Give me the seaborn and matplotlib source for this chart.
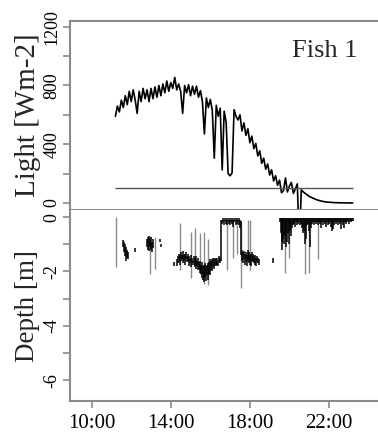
import numpy as np
import matplotlib
matplotlib.use("Agg")
import matplotlib.pyplot as plt
import seaborn as sns

# ---------------- data ----------------
# Light (W m-2) sampled every 0.1 h from 11.2 h to 23.2 h
light_time = np.round(np.arange(11.2, 23.2001, 0.1), 2)
light_value = [
    590, 660, 620, 700, 650, 730, 670, 760, 690, 770,   # 11.2-12.1
    700, 610, 760, 690, 780, 710, 770, 690, 780, 710,   # 12.2-13.1
    790, 720, 800, 730, 810, 750, 830, 760, 820, 780,   # 13.2-14.1
    855, 770, 810, 760, 610, 800, 750, 805, 730, 795,   # 14.2-15.1
    740, 795, 720, 765, 690, 470, 715, 650, 705, 630,   # 15.2-16.1
    305, 665, 590, 645, 225, 625, 550, 200, 185, 205,   # 16.2-17.1
    635, 590, 565, 600, 490, 545, 460, 505, 410, 455,   # 17.2-18.1
    370, 405, 320, 355, 270, 305, 230, 265, 190, 225,   # 18.2-19.1
    150, 185, 120, 155, 70, 85, 170, 75, 115, 140,      # 19.2-20.1
    65, 95, 130, -300, 90, 75, 65, 55, 45, 38,          # 20.2-21.1
    32, 26, 21, 17, 13, 10, 8, 6, 5, 4,                 # 21.2-22.1
    3, 2, 2, 1, 1, 1, 1, 0, 0, 0,                       # 22.2-23.1
    0,                                                  # 23.2
]
light_threshold = 100

# Depth (m): dense black bands (time, shallow, deep)
core_time = [
    11.60, 11.65, 11.70, 11.75, 11.80, 11.85, 12.20,
    12.80, 12.85, 12.90, 12.95, 13.00, 13.05, 13.10, 13.45, 13.50,
    14.15,
    14.30, 14.35, 14.40, 14.45, 14.50, 14.55, 14.60, 14.65, 14.70, 14.75,
    14.80, 14.85, 14.90, 14.95, 15.00, 15.05, 15.10, 15.15, 15.20, 15.25,
    15.30, 15.35, 15.40, 15.45, 15.50, 15.55, 15.60, 15.65, 15.70, 15.75,
    15.80, 15.85, 15.90, 15.95, 16.00, 16.05, 16.10, 16.15, 16.20, 16.25,
    16.30, 16.35, 16.40, 16.45, 16.50, 16.55,
    16.60, 16.65, 16.70, 16.75, 16.80, 16.85, 16.90, 16.95, 17.00, 17.05,
    17.10, 17.15, 17.20, 17.25, 17.30, 17.35, 17.40, 17.45, 17.50, 17.55,
    17.60, 17.65, 17.70, 17.75, 17.80, 17.85, 17.90, 17.95, 18.00, 18.05,
    18.10, 18.15, 18.20, 18.25, 18.30, 18.35, 18.40, 18.45,
    19.15,
    19.50, 19.55, 19.60, 19.65, 19.70, 19.75, 19.80, 19.85, 19.90, 19.95,
    20.00, 20.05, 20.10, 20.15, 20.20, 20.25, 20.30, 20.35, 20.40, 20.45,
    20.50, 20.55, 20.60, 20.65, 20.70, 20.75, 20.80, 20.85, 20.90, 20.95,
    21.00, 21.05, 21.10, 21.15, 21.20, 21.25, 21.30, 21.35, 21.40, 21.45,
    21.50, 21.55, 21.60, 21.65, 21.70, 21.75, 21.80, 21.85, 21.90, 21.95,
    22.00, 22.05, 22.10, 22.15, 22.20, 22.25, 22.30, 22.35, 22.40, 22.45,
    22.50, 22.55, 22.60, 22.65, 22.70, 22.75, 22.80, 22.85, 22.90, 22.95,
    23.00, 23.05, 23.10, 23.15, 23.20,
]
core_top = [
    -0.85, -0.90, -1.00, -1.10, -1.20, -1.30, -1.15,
    -0.80, -0.75, -0.70, -0.80, -0.75, -0.90, -0.80, -0.80, -1.00,
    -1.65,
    -1.55, -1.45, -1.35, -1.40, -1.30, -1.40, -1.25, -1.40, -1.35, -1.30,
    -1.45, -1.35, -1.45, -1.55, -1.40, -1.50, -1.60, -1.45, -1.50, -1.60,
    -1.45, -1.60, -1.50, -1.65, -1.60, -1.75, -1.65, -1.80, -1.75, -1.70,
    -1.80, -1.75, -1.70, -1.65, -1.55, -1.60, -1.55, -1.50, -1.55, -1.50,
    -1.55, -1.50, -1.60, -1.45, -1.50, -0.10,
    -0.10, -0.05, -0.10, -0.05, -0.10, -0.05, -0.10, -0.05, -0.10, -0.05,
    -0.10, -0.05, -0.10, -0.05, -0.10, -0.05, -0.10, -0.05, -0.10, -0.15,
    -1.20, -1.30, -1.25, -1.35, -1.30, -1.40, -1.20, -1.30, -1.35, -1.40,
    -1.30, -1.35, -1.45, -1.40, -1.50, -1.45, -1.50, -1.55,
    -1.50,
    -0.05, -0.05, -0.05, -0.05, -0.05, -0.05, -0.05, -0.05, -0.05, -0.05,
    -0.05, -0.05, -0.05, -0.05, -0.05, -0.05, -0.05, -0.05, -0.05, -0.05,
    -0.05, -0.05, -0.05, -0.05, -0.05, -0.05, -0.05, -0.05, -0.05, -0.05,
    -0.05, -0.05, -0.05, -0.05, -0.05, -0.05, -0.05, -0.05, -0.05, -0.05,
    -0.05, -0.05, -0.05, -0.05, -0.05, -0.05, -0.05, -0.05, -0.05, -0.05,
    -0.05, -0.05, -0.05, -0.05, -0.05, -0.05, -0.05, -0.05, -0.05, -0.05,
    -0.05, -0.05, -0.05, -0.05, -0.05, -0.05, -0.05, -0.05, -0.05, -0.05,
    -0.05, -0.05, -0.05, -0.05, -0.05,
]
core_bottom = [
    -1.10, -1.30, -1.45, -1.60, -1.50, -1.55, -1.30,
    -1.10, -1.20, -1.25, -1.10, -1.20, -1.30, -1.15, -0.90, -1.10,
    -1.80,
    -1.80, -1.70, -1.65, -1.75, -1.60, -1.55, -1.70, -1.60, -1.75, -1.55,
    -1.65, -1.60, -1.80, -1.70, -1.85, -1.70, -1.75, -1.65, -1.85, -1.75,
    -1.90, -1.80, -1.95, -1.90, -2.05, -2.10, -2.25, -2.30, -2.40, -2.20,
    -2.35, -2.15, -2.30, -2.10, -2.15, -1.95, -2.00, -1.85, -1.90, -1.75,
    -1.80, -1.75, -1.80, -1.65, -1.70, -1.60,
    -0.25, -0.20, -0.30, -0.15, -0.25, -0.30, -0.15, -0.25, -0.30, -0.20,
    -0.25, -0.35, -0.20, -0.15, -0.30, -0.25, -0.20, -0.30, -0.40, -1.40,
    -1.60, -1.70, -1.55, -1.75, -1.65, -1.80, -1.60, -1.70, -1.75, -1.80,
    -1.60, -1.65, -1.70, -1.75, -1.80, -1.65, -1.70, -1.75,
    -1.70,
    -0.20, -0.60, -0.90, -1.20, -0.80, -1.00, -0.70, -1.10, -0.90, -0.60,
    -1.00, -0.50, -0.70, -0.40, -0.30, -0.25, -0.35, -0.20, -0.30, -0.25,
    -0.20, -0.30, -0.25, -0.40, -0.60, -0.50, -1.00, -0.80, -0.30, -0.25,
    -0.50, -1.10, -0.40, -0.25, -0.20, -0.30, -0.20, -0.25, -0.20, -0.30,
    -0.20, -0.25, -0.40, -0.20, -0.30, -0.20, -0.25, -0.35, -0.20, -0.30,
    -0.25, -0.20, -0.35, -0.50, -0.45, -0.30, -0.20, -0.25, -0.20, -0.30,
    -0.20, -0.25, -0.45, -0.20, -0.30, -0.40, -0.20, -0.25, -0.20, -0.15,
    -0.25, -0.15, -0.20, -0.15, -0.15,
]

# Depth (m): isolated excursions (thin grey lines)
spike_time = [11.23, 12.95, 13.20, 14.46, 15.00, 15.22, 15.47, 15.68, 15.90,
              16.83, 17.15, 17.35, 17.55, 17.92, 18.00, 19.80, 19.99, 20.78,
              21.00, 21.45]
spike_top = [0.00, -0.70, -0.75, -0.23, -0.55, -0.42, -0.60, -0.55, -0.80,
             -0.10, -0.10, -0.10, -0.20, -0.10, -0.10, -0.05, -0.05, -0.05,
             -0.05, -0.05]
spike_bottom = [-1.83, -2.10, -1.92, -1.95, -2.25, -1.80, -2.10, -2.45, -2.50,
                -1.95, -1.50, -1.35, -2.60, -1.50, -1.95, -2.05, -1.50, -2.10,
                -2.05, -1.55]

x_ticks = [10, 14, 18, 22]
x_tick_labels = ["10:00", "14:00", "18:00", "22:00"]
light_ticks = [0, 200, 400, 600, 800, 1000, 1200]
light_tick_labels = ["0", "", "400", "", "800", "", "1200"]
depth_ticks = [0, -1, -2, -3, -4, -5, -6]
depth_tick_labels = ["0", "", "-2", "", "-4", "", "-6"]

# ---------------- styling ----------------
sns.set_theme(style="white")
plt.rcParams["font.family"] = ["Liberation Serif", "DejaVu Serif"]

spine_col = "#8a8a8a"

fig = plt.figure(figsize=(3.78, 4.36), dpi=100)
W, H = 378.0, 436.0
left = 70 / W
ax1 = fig.add_axes([left, 1 - 210 / H, 1 - left, (210 - 21) / H])
ax2 = fig.add_axes([left, 1 - 401 / H, 1 - left, (401 - 210) / H])

xlim = (8.903, 24.48)

# ---- top: light ----
sns.lineplot(x=light_time, y=light_value, ax=ax1, color="black",
             linewidth=1.2, estimator=None, sort=False)
ax1.hlines(light_threshold, light_time.min(), light_time.max(),
           color="#555555", linewidth=1.0)
ax1.set_xlim(*xlim)
ax1.set_ylim(-48, 1239)
ax1.set_xticks([])
ax1.set_yticks(light_ticks)
ax1.set_yticklabels(light_tick_labels, rotation=90, va="center", fontsize=13)
ax1.text(0.935, 0.81, "Fish 1", transform=ax1.transAxes, ha="right",
         va="baseline", fontsize=19)
ax1.set_ylabel("Light [Wm-2]", fontsize=21)
ax1.yaxis.set_label_coords(-0.1786, 0.5)
ax1.yaxis.label.set_verticalalignment("top")

# ---- bottom: depth ----
ax2.vlines(spike_time, spike_top, spike_bottom, color="#8c8c8c", linewidth=1.0)
ax2.vlines(core_time, core_top, core_bottom, color="black", linewidth=1.1)
ax2.set_xlim(*xlim)
ax2.set_ylim(-6.77, 0.26)
ax2.set_xticks(x_ticks)
ax2.set_xticklabels(x_tick_labels, fontsize=15)
ax2.set_yticks(depth_ticks)
ax2.set_yticklabels(depth_tick_labels, rotation=90, va="center", fontsize=13)
ax2.set_ylabel("Depth [m]", fontsize=19.5)
ax2.yaxis.set_label_coords(-0.1786, 0.5)
ax2.yaxis.label.set_verticalalignment("top")

for ax in (ax1, ax2):
    ax.set_xlabel("")
    for s in ax.spines.values():
        s.set_color(spine_col)
        s.set_linewidth(1.5)
    ax.spines["right"].set_visible(False)
    ax.tick_params(axis="both", direction="out", length=5, width=1.2,
                   color=spine_col, labelcolor="black", pad=2,
                   left=True, bottom=True)
    ax.set_facecolor("white")
ax2.spines["top"].set_visible(False)
ax1.tick_params(axis="x", bottom=False)
ax2.tick_params(axis="x", pad=4)

fig.savefig("out.png", dpi=100, facecolor="white")
